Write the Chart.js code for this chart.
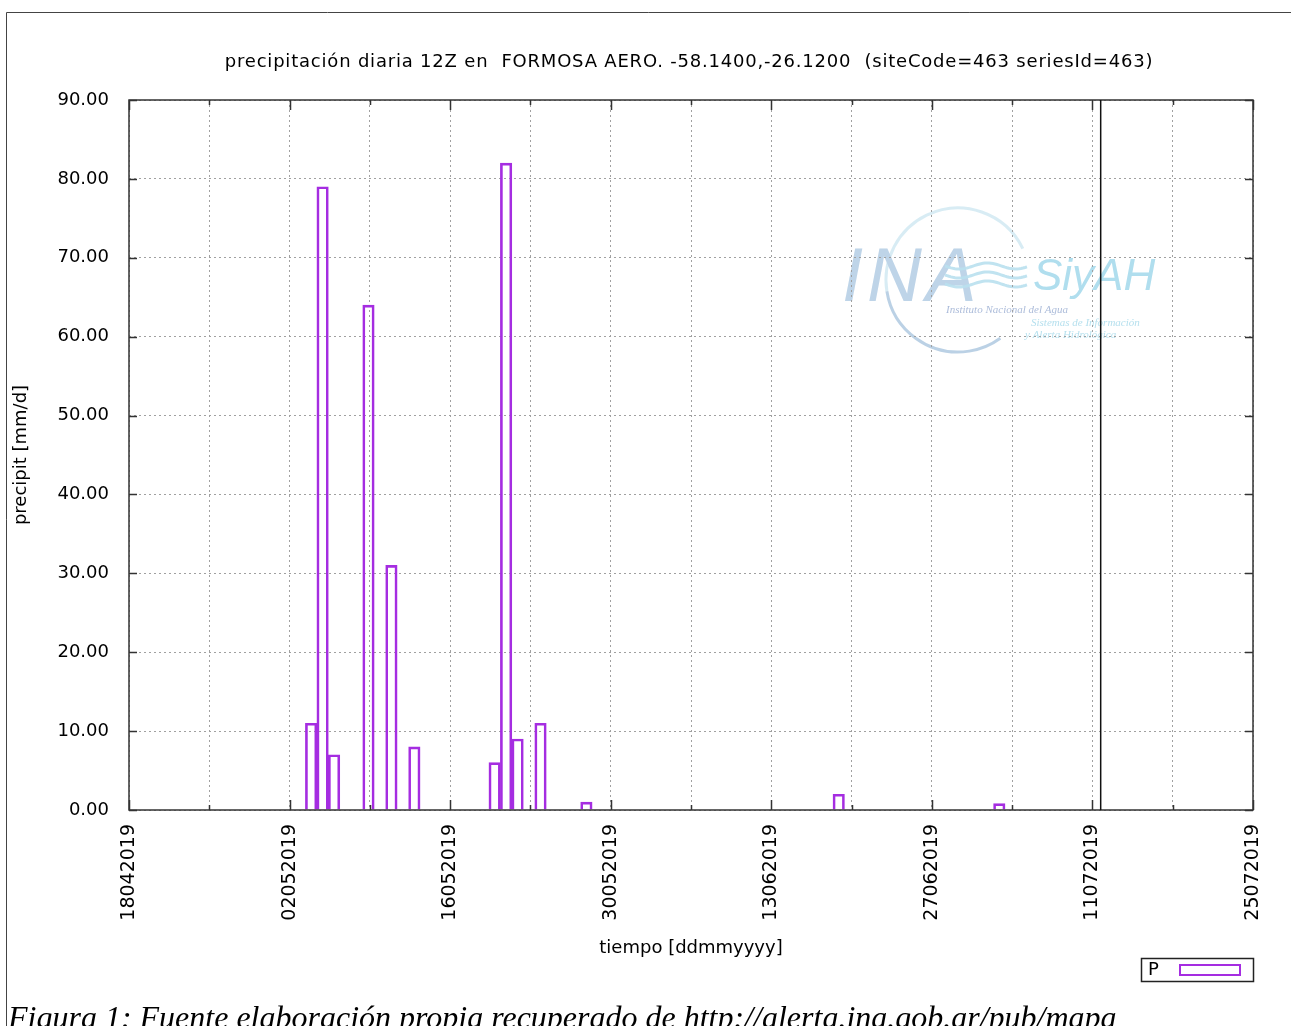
<!DOCTYPE html>
<html>
<head>
<meta charset="utf-8">
<script src="https://cdn.jsdelivr.net/npm/chart.js@4/dist/chart.umd.min.js"></script>
<style>
  html, body { margin: 0; padding: 0; background: #fff; overflow: hidden; }
  #marco { position: relative; width: 1291px; height: 1026px; }
</style>
</head>
<body>
<div id="marco"><canvas id="grafico"></canvas></div>
<script>
// datos (dia de la medicion y mm/d)
const fechas = ["03052019", "04052019", "05052019", "08052019", "10052019", "12052019",
  "19052019", "20052019", "21052019", "23052019", "27052019", "18062019", "02072019"];
const precip = [11, 79, 7, 64, 31, 8, 6, 82, 9, 11, 1.0, 2.0, 0.8];
const inicio = "18042019"; // primer dia del eje
const dias_eje = 98;       // 18042019 .. 25072019
const marca_actual = "11072019"; // linea vertical negra
const titulo = "precipitación diaria 12Z en  FORMOSA AERO. -58.1400,-26.1200  (siteCode=463 seriesId=463)";
const leyenda = "P";

const morado = "rgb(165, 45, 225)";
const hora_12z = 0.88; // desplazamiento de las barras dentro del dia

function aDia(s) {
  const d = Date.UTC(+s.slice(4), +s.slice(2, 4) - 1, +s.slice(0, 2));
  const d0 = Date.UTC(+inicio.slice(4), +inicio.slice(2, 4) - 1, +inicio.slice(0, 2));
  return Math.round((d - d0) / 86400000);
}
function aFecha(n) {
  const d0 = Date.UTC(+inicio.slice(4), +inicio.slice(2, 4) - 1, +inicio.slice(0, 2));
  const d = new Date(d0 + n * 86400000);
  const dd = String(d.getUTCDate()).padStart(2, "0");
  const mm = String(d.getUTCMonth() + 1).padStart(2, "0");
  return dd + mm + d.getUTCFullYear();
}

const puntos = fechas.map((f, i) => ({ x: aDia(f) + hora_12z, y: precip[i] }));

// logo de fondo (marca de agua)
const marcaAgua = {
  id: "marcaAgua",
  beforeDraw(chart) {
    const c = chart.ctx;
    c.save();
    c.lineWidth = 3;
    c.strokeStyle = "rgba(212, 234, 243, 0.9)";
    c.beginPath();
    c.arc(958, 280, 72, -0.45, Math.PI * 0.95, true);
    c.stroke();
    c.strokeStyle = "rgba(180, 204, 226, 0.9)";
    c.beginPath();
    c.arc(958, 280, 72, Math.PI * 0.95, Math.PI * 0.3, true);
    c.stroke();
    c.fillStyle = "rgb(190, 212, 232)";
    c.font = "italic 76px 'Liberation Sans'";
    c.letterSpacing = "4px";
    c.textBaseline = "alphabetic";
    c.fillText("INA", 842, 301);
    c.letterSpacing = "0px";
    c.strokeStyle = "rgba(185, 224, 238, 0.9)";
    c.lineWidth = 3;
    for (let k = 0; k < 3; k++) {
      c.beginPath();
      for (let x = 945; x <= 1028; x += 2) {
        const y = 266 + k * 9 + Math.sin((x - 945) / 9) * 3;
        if (x === 945) c.moveTo(x, y); else c.lineTo(x, y);
      }
      c.stroke();
    }
    c.fillStyle = "rgb(176, 222, 238)";
    c.font = "italic 44px 'Liberation Sans'";
    c.fillText("SiyAH", 1033, 290);
    c.fillStyle = "rgb(172, 188, 218)";
    c.font = "italic 11px 'Liberation Serif'";
    c.fillText("Instituto Nacional del Agua", 946, 313);
    c.fillStyle = "rgb(182, 224, 238)";
    c.fillText("Sistemas de Información", 1031, 326);
    c.fillText("y Alerta Hidrológica", 1025, 338);
    c.restore();
  }
};

// marco, marcas interiores, linea vertical, titulo, leyenda y epigrafe
const adornos = {
  id: "adornos",
  afterDatasetsDraw(chart) {
    const c = chart.ctx;
    const a = chart.chartArea;
    const sx = chart.scales.x, sy = chart.scales.y;
    c.save();
    c.strokeStyle = "#333";
    c.lineWidth = 1.5;
    c.setLineDash([]);
    for (let v = 0; v <= dias_eje; v += 7) {
      const px = Math.round(sx.getPixelForValue(v)) + 0.5;
      const l = v % 14 === 0 ? 10 : 5;
      c.beginPath();
      c.moveTo(px, a.bottom); c.lineTo(px, a.bottom - l);
      c.moveTo(px, a.top); c.lineTo(px, a.top + l);
      c.stroke();
    }
    for (let v = 0; v <= 90; v += 10) {
      const py = Math.round(sy.getPixelForValue(v)) + 0.5;
      c.beginPath();
      c.moveTo(a.left, py); c.lineTo(a.left + 8, py);
      c.moveTo(a.right, py); c.lineTo(a.right - 8, py);
      c.stroke();
    }
    c.strokeRect(a.left, a.top, a.right - a.left, a.bottom - a.top);
    // linea vertical de la fecha actual
    const xm = sx.getPixelForValue(aDia(marca_actual) + 0.72);
    c.strokeStyle = "#111";
    c.beginPath();
    c.moveTo(xm, a.top); c.lineTo(xm, a.bottom);
    c.stroke();
    // titulo
    c.fillStyle = "#000";
    c.font = "18px 'DejaVu Sans'";
    c.letterSpacing = "0.8px";
    c.textAlign = "center";
    c.textBaseline = "middle";
    c.fillText(titulo, 689, 62);
    c.letterSpacing = "0px";
    // leyenda
    c.lineWidth = 1.5;
    c.strokeStyle = "#222";
    c.strokeRect(1141.5, 958.5, 112, 23);
    c.textAlign = "left";
    c.fillText(leyenda, 1148, 970);
    c.strokeStyle = morado;
    c.lineWidth = 2;
    c.strokeRect(1180, 965, 60, 10);
    // epigrafe
    c.font = "italic 32px 'Liberation Serif'";
    c.textBaseline = "alphabetic";
    c.fillText("Figura 1: Fuente elaboración propia recuperado de http://alerta.ina.gob.ar/pub/mapa", 8, 1028);
    // marco de la pagina
    c.strokeStyle = "#444";
    c.lineWidth = 1;
    c.beginPath();
    c.moveTo(6.5, 1026); c.lineTo(6.5, 12.5); c.lineTo(1291, 12.5);
    c.stroke();
    c.restore();
  }
};

Chart.defaults.font.family = "'DejaVu Sans', sans-serif";
Chart.defaults.color = "#000";

const ctx = document.getElementById("grafico");
new Chart(ctx, {
  type: "bar",
  data: {
    datasets: [{
      label: leyenda,
      data: puntos,
      backgroundColor: "rgba(0,0,0,0)",
      borderColor: morado,
      borderWidth: 2,
      barPercentage: 1,
      categoryPercentage: 1
    }]
  },
  options: {
    responsive: true,
    maintainAspectRatio: false,
    animation: false,
    layout: { padding: { left: 0, top: 100, right: 38, bottom: 0 } },
    plugins: { legend: { display: false }, tooltip: { enabled: false }, title: { display: false } },
    scales: {
      x: {
        type: "linear",
        offset: false,
        min: 0,
        max: dias_eje,
        afterFit: (s) => { s.height = 216; },
        grid: { color: "#a0a0a0", lineWidth: 1, drawTicks: false, offset: false },
        border: { display: false, dash: [2, 3] },
        ticks: {
          stepSize: 7,
          autoSkip: false,
          minRotation: 90,
          maxRotation: 90,
          padding: 14,
          font: { size: 19 },
          callback: (v) => (v % 14 === 0 ? aFecha(v) : "")
        },
        title: { display: true, text: "tiempo [ddmmyyyy]", font: { size: 18 }, padding: { top: 0, bottom: 67 } }
      },
      y: {
        min: 0,
        max: 90,
        afterFit: (s) => { s.width = 129; },
        grid: { color: "#a0a0a0", lineWidth: 1, drawTicks: false },
        border: { display: false, dash: [2, 3] },
        ticks: { stepSize: 10, padding: 20, font: { size: 18 }, callback: (v) => v.toFixed(2) },
        title: { display: true, text: "precipit [mm/d]", font: { size: 18 }, padding: { top: 11, bottom: 0 } }
      }
    }
  },
  plugins: [marcaAgua, adornos]
});
</script>
</body>
</html>
